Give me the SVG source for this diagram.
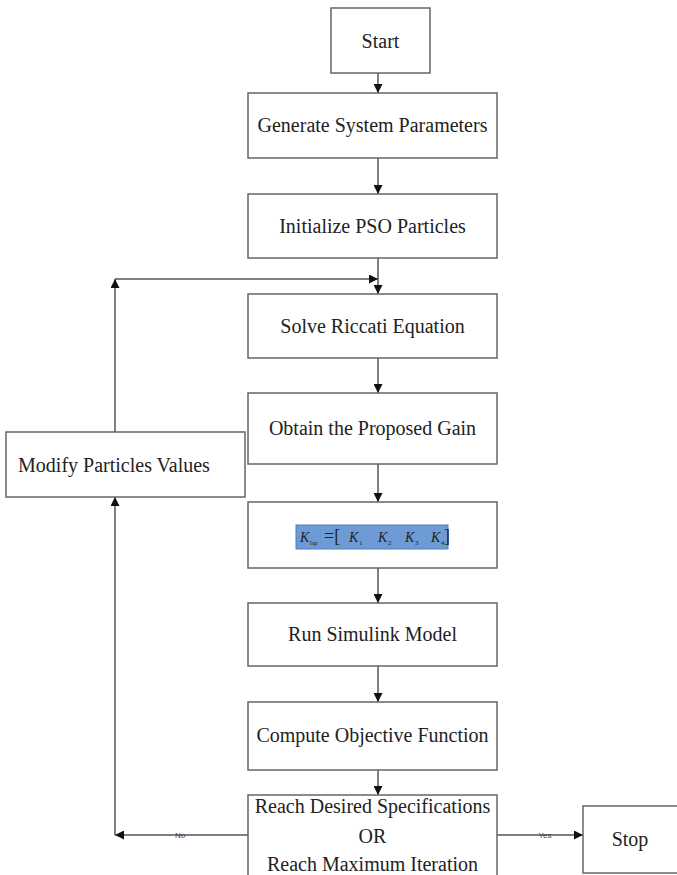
<svg xmlns="http://www.w3.org/2000/svg" width="677" height="875" viewBox="0 0 677 875">
<style>
.box{fill:#fff;stroke:#666;stroke-width:1.5}
.t{font-family:"Liberation Serif",serif;font-size:20px;fill:#222;text-anchor:middle}
.ln{fill:none;stroke:#555;stroke-width:1.5}
.sm{font-family:"Liberation Sans",sans-serif;font-size:8px;fill:#444;text-anchor:middle}
.m{font-family:"Liberation Serif",serif;font-style:italic;font-size:14px;fill:#222}
.s{font-family:"Liberation Serif",serif;font-size:7px;fill:#222}
.b{font-family:"Liberation Serif",serif;font-size:18px;fill:#222}
</style>
<defs>
<marker id="ah" viewBox="0 0 10 10" refX="10" refY="5" markerWidth="9" markerHeight="9" markerUnits="userSpaceOnUse" orient="auto">
<path d="M0,0 L10,5 L0,10 z" fill="#111"/>
</marker>
</defs>
<rect width="677" height="875" fill="#fff"/>
<g id="connectors">
<line class="ln" x1="378" y1="73" x2="378" y2="93" marker-end="url(#ah)"/>
<line class="ln" x1="378" y1="158" x2="378" y2="194" marker-end="url(#ah)"/>
<line class="ln" x1="378" y1="258" x2="378" y2="294" marker-end="url(#ah)"/>
<line class="ln" x1="378" y1="358" x2="378" y2="393" marker-end="url(#ah)"/>
<line class="ln" x1="378" y1="464" x2="378" y2="502" marker-end="url(#ah)"/>
<line class="ln" x1="378" y1="568" x2="378" y2="603" marker-end="url(#ah)"/>
<line class="ln" x1="378" y1="666" x2="378" y2="702" marker-end="url(#ah)"/>
<line class="ln" x1="378" y1="770" x2="378" y2="795" marker-end="url(#ah)"/>
<line class="ln" x1="497" y1="835" x2="583" y2="835" marker-end="url(#ah)"/>
<line class="ln" x1="248" y1="835" x2="115" y2="835" marker-end="url(#ah)"/>
<line class="ln" x1="115" y1="835" x2="115" y2="497" marker-end="url(#ah)"/>
<line class="ln" x1="115" y1="432" x2="115" y2="279" marker-end="url(#ah)"/>
<line class="ln" x1="115" y1="279" x2="378" y2="279" marker-end="url(#ah)"/>
<text class="sm" x="180" y="838">No</text>
<text class="sm" x="545" y="838">Yes</text>
</g>
<g id="start"><rect class="box" x="331" y="8" width="99" height="65"/><text class="t" x="380.5" y="48">Start</text></g>
<g id="gen"><rect class="box" x="248" y="93" width="249" height="65"/><text class="t" x="372.5" y="132">Generate System Parameters</text></g>
<g id="init"><rect class="box" x="248" y="194" width="249" height="64"/><text class="t" x="372.5" y="233">Initialize PSO Particles</text></g>
<g id="riccati"><rect class="box" x="248" y="294" width="249" height="64"/><text class="t" x="372.5" y="333">Solve Riccati Equation</text></g>
<g id="gain"><rect class="box" x="248" y="393" width="249" height="71"/><text class="t" x="372.5" y="435">Obtain the Proposed Gain</text></g>
<g id="formula"><rect class="box" x="248" y="502" width="249" height="66"/>
<rect x="296" y="525" width="152" height="24" fill="#6e9bd5" stroke="#4f7fc0" stroke-width="1"/>
<text class="m" x="300" y="542">K</text><text class="s" x="310" y="545">lqr</text>
<text class="b" x="324" y="542">=[</text>
<text class="m" x="349" y="542">K</text><text class="s" x="359" y="545">1</text>
<text class="m" x="378" y="542">K</text><text class="s" x="388" y="545">2</text>
<text class="m" x="405" y="542">K</text><text class="s" x="415" y="545">3</text>
<text class="m" x="431" y="542">K</text><text class="s" x="441" y="545">4</text>
<text class="b" x="444" y="542">]</text>
</g>
<g id="sim"><rect class="box" x="248" y="603" width="249" height="63"/><text class="t" x="372.5" y="641">Run Simulink Model</text></g>
<g id="obj"><rect class="box" x="248" y="702" width="249" height="68"/><text class="t" x="372.5" y="742">Compute Objective Function</text></g>
<g id="decision"><rect class="box" x="248" y="795" width="249" height="90"/>
<text class="t" x="372.5" y="813">Reach Desired Specifications</text>
<text class="t" x="372.5" y="843">OR</text>
<text class="t" x="372.5" y="871">Reach Maximum Iteration</text></g>
<g id="stop"><rect class="box" x="583" y="806" width="100" height="67"/><text class="t" x="630" y="846">Stop</text></g>
<g id="modify"><rect class="box" x="6" y="432" width="239" height="65"/><text class="t" x="114" y="472">Modify Particles Values</text></g>
</svg>
